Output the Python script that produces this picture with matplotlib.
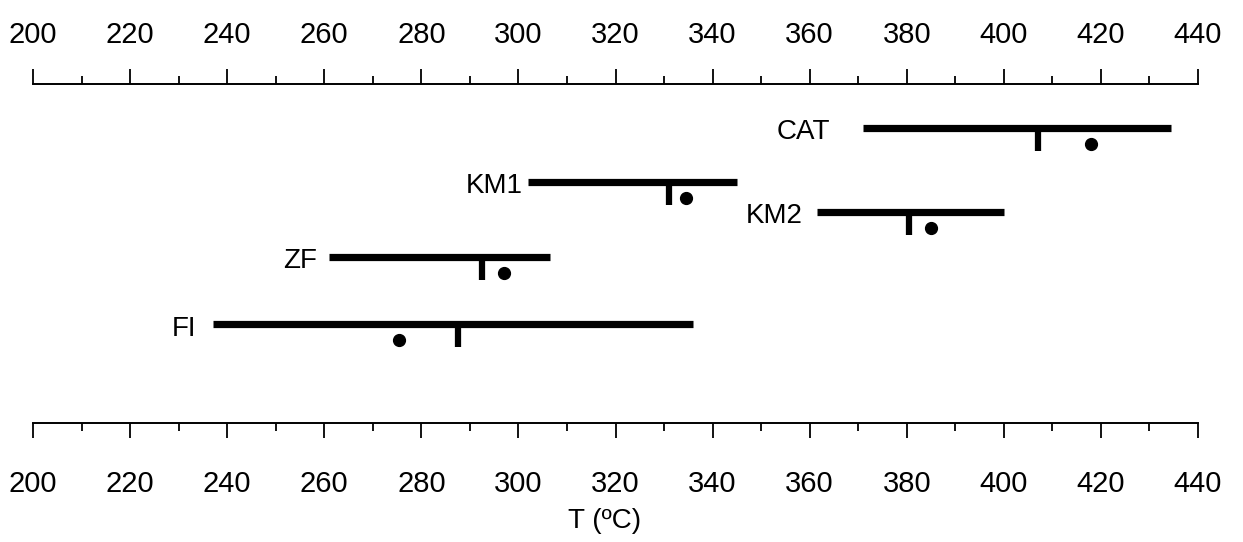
import numpy as np
import matplotlib.pyplot as plt

plt.rcParams['font.family'] = ['Liberation Sans', 'DejaVu Sans']

# temperature ranges (ºC) per sample
names = ['CAT', 'KM1', 'KM2', 'ZF', 'FI']
t_min = [371.0, 302.0, 361.5, 261.0, 237.0]
t_max = [434.5, 345.0, 400.0, 306.5, 336.0]
t_mark = [407.0, 331.0, 380.5, 292.5, 287.5]   # vertical bar under the range
t_dot = [418.0, 334.5, 385.0, 297.0, 275.5]    # black dot

# row heights (arbitrary units, 0 = bottom axis, 10 = top axis)
levels = [8.70, 7.11, 6.22, 4.90, 2.91]
label_gap = [24, 4, 10, 9, 12]  # points between label and bar start

major = np.arange(200, 441, 20)
minor = np.arange(210, 440, 20)

fig = plt.figure(figsize=(12.43, 5.42), dpi=100)
ax = fig.add_axes([33 / 1243, 119 / 542, 1165 / 1243, 339 / 542])
ax.set_xlim(200, 440)
ax.set_ylim(0, 10)

for i in range(len(names)):
    y = levels[i]
    ax.hlines(y, t_min[i], t_max[i], color='black', lw=5.2, capstyle='butt')
    ax.vlines(t_mark[i], y - 0.68, y, color='black', lw=4.5, capstyle='butt')
    ax.plot(t_dot[i], y - 0.47, 'o', color='black', ms=8.5)
    ax.annotate(names[i], (t_min[i], y), xytext=(-label_gap[i], -3),
                textcoords='offset points', ha='right', va='center',
                fontsize=20)

ax.spines['left'].set_visible(False)
ax.spines['right'].set_visible(False)
ax.spines['top'].set_visible(False)
ax.set_yticks([])

ax.set_xticks(major)
ax.set_xticks(minor, minor=True)
ax.tick_params(axis='x', which='major', direction='out', length=11, width=1.3,
               labelsize=21, pad=23)
ax.tick_params(axis='x', which='minor', direction='out', length=5.5, width=1.3)
ax.spines['bottom'].set_linewidth(1.4)
ax.set_xlabel('T (ºC)', fontsize=20)
ax.xaxis.set_label_coords(0.491, -0.25)

ax2 = ax.twiny()
ax2.set_xlim(200, 440)
for s in ['left', 'right', 'bottom']:
    ax2.spines[s].set_visible(False)
ax2.spines['top'].set_linewidth(1.4)
ax2.set_xticks(major)
ax2.set_xticks(minor, minor=True)
ax2.tick_params(axis='x', which='major', direction='out', length=11, width=1.3,
                labelsize=21, pad=14)
ax2.tick_params(axis='x', which='minor', direction='out', length=5.5, width=1.3)

fig.savefig('out.png', dpi=100)
